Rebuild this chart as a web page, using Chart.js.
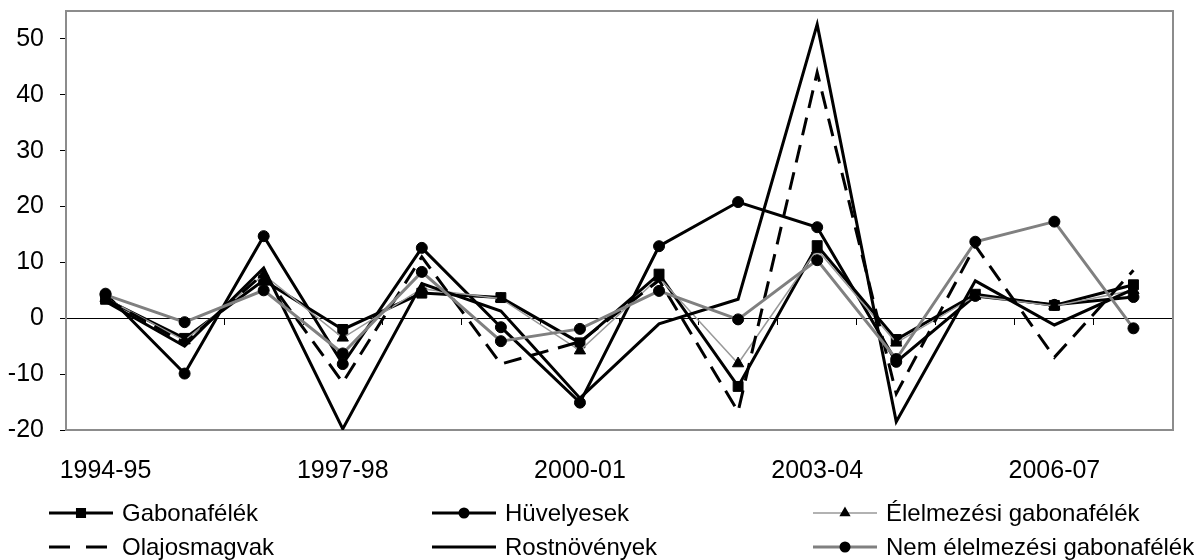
<!DOCTYPE html>
<html>
<head>
<meta charset="utf-8">
<script src="https://cdn.jsdelivr.net/npm/chart.js@4.4.1/dist/chart.umd.min.js"></script>
<style>
  html, body { margin: 0; padding: 0; background: #fff; }
  #wrap { width: 1194px; height: 560px; }
</style>
</head>
<body>
<div id="wrap"><canvas id="chart" width="1194" height="560"></canvas></div>
<script>
// ---------- data ----------
const years = [
  "1994-95", "1995-96", "1996-97", "1997-98", "1998-99", "1999-00", "2000-01",
  "2001-02", "2002-03", "2003-04", "2004-05", "2005-06", "2006-07", "2007-08",
];
const gabonafelek = [3.4, -3.6, 6.8, -2.0, 4.5, 3.7, -4.4, 7.9, -12.2, 13.0, -3.8, 4.3, 2.3, 6.0];
const huvelyesek = [4.4, -9.9, 14.7, -8.2, 12.6, -1.6, -15.1, 12.9, 20.8, 16.3, -7.8, 4.0, 2.4, 3.8];
const elelmezesi = [3.6, -4.0, 7.8, -3.5, 5.3, 3.5, -5.8, 7.3, -8.1, 12.3, -4.4, 4.0, 2.2, 5.0];
const olajosmagvak = [3.5, -4.5, 8.0, -11.5, 11.0, -8.2, -4.2, 6.8, -16.7, 44.0, -13.5, 13.0, -7.0, 8.6];
const rostnovenyek = [3.0, -5.0, 9.0, -19.8, 6.2, 1.3, -14.3, -1.0, 3.4, 52.6, -18.5, 6.7, -1.2, 5.2];
const nemElelmezesi = [4.2, -0.7, 5.0, -6.3, 8.3, -4.1, -1.9, 4.9, -0.2, 10.4, -7.3, 13.7, 17.3, -1.8];
const yTicks = [-20, -10, 0, 10, 20, 30, 40, 50];

const FONT = "'Liberation Sans', Arial, sans-serif";

// legend grid (3 columns x 2 rows, like the Excel original)
const legendCols = [49, 432, 813];
const legendRows = [513, 547];

const extras = {
  id: "extras",
  beforeDatasetsDraw(chart) {
    // grey plot-area frame
    const a = chart.chartArea;
    const ctx = chart.ctx;
    ctx.save();
    ctx.strokeStyle = "#8c8c8c";
    ctx.lineWidth = 2;
    ctx.strokeRect(a.left, a.top, a.right - a.left, a.bottom - a.top);
    ctx.restore();
  },
  afterDraw(chart) {
    const ctx = chart.ctx;
    chart.data.datasets.forEach((ds, i) => {
      const x = legendCols[i % 3];
      const y = legendRows[Math.floor(i / 3)];
      ctx.save();
      ctx.strokeStyle = ds.borderColor;
      ctx.lineWidth = ds.borderWidth;
      ctx.setLineDash(ds.borderDash ? [21, 16] : []);
      ctx.beginPath();
      ctx.moveTo(x, y);
      ctx.lineTo(x + 64, y);
      ctx.stroke();
      ctx.setLineDash([]);
      if (ds.pointRadius > 0) {
        ctx.fillStyle = "#000";
        ctx.strokeStyle = "#000";
        Chart.helpers.drawPoint(ctx, {
          pointStyle: ds.pointStyle,
          radius: ds.pointStyle === "circle" ? 4 : 5,
          borderWidth: 1,
          rotation: 0,
        }, x + 32, y);
      }
      ctx.fillStyle = "#000";
      ctx.font = "24px " + FONT;
      ctx.textBaseline = "middle";
      ctx.textAlign = "left";
      ctx.fillText(ds.label, x + 73, y + 1);
      ctx.restore();
    });
  },
};

function series(label, data, opts) {
  return Object.assign({
    label,
    data,
    borderColor: "#000",
    borderWidth: 3,
    pointRadius: 0,
    pointBackgroundColor: "#000",
    pointBorderColor: "#000",
    pointBorderWidth: 1,
    tension: 0,
    fill: false,
  }, opts);
}

const datasets = [
  series("Gabonafélék", gabonafelek, { pointStyle: "rect", pointRadius: 7 }),
  series("Hüvelyesek", huvelyesek, { pointStyle: "circle", pointRadius: 5.5 }),
  series("Élelmezési gabonafélék", elelmezesi, {
    borderColor: "#999", borderWidth: 1.5, pointStyle: "triangle", pointRadius: 6.5,
  }),
  series("Olajosmagvak", olajosmagvak, { borderDash: [18, 10] }),
  series("Rostnövények", rostnovenyek, {}),
  series("Nem élelmezési gabonafélék", nemElelmezesi, {
    borderColor: "#808080", pointStyle: "circle", pointRadius: 5.5,
  }),
];
// later series drawn on top, as in Excel
datasets.forEach((d, i) => { d.order = datasets.length - i; });

new Chart(document.getElementById("chart"), {
  type: "line",
  data: { labels: years, datasets },
  options: {
    responsive: false,
    animation: false,
    layout: { padding: { top: 11, right: 21, left: 0, bottom: 0 } },
    plugins: { legend: { display: false }, tooltip: { enabled: false } },
    scales: {
      x: {
        type: "category",
        offset: true,
        afterFit: (s) => { s.height = 130; s.paddingLeft = 0; s.paddingRight = 0; },
        border: { display: false },
        grid: { display: false },
        ticks: {
          autoSkip: false,
          maxRotation: 0,
          color: "#000",
          font: { family: FONT, size: 25 },
          padding: 18,
          callback: (v, i) => (i % 3 === 0 ? years[i] : ""),
        },
      },
      xZero: {
        type: "category",
        axis: "x",
        offset: true,
        position: { y: 0 },
        border: { display: true, color: "#000", width: 1 },
        grid: { drawOnChartArea: false, drawTicks: true, tickLength: 6, color: "#000", offset: true },
        ticks: { display: false },
      },
      y: {
        min: -20,
        max: 55,
        afterBuildTicks: (s) => { s.ticks = yTicks.map((v) => ({ value: v })); },
        afterFit: (s) => { s.width = 66; s.paddingTop = 0; s.paddingBottom = 0; },
        border: { display: false },
        grid: { drawOnChartArea: false, drawTicks: true, tickLength: 6, color: "#000" },
        ticks: { color: "#000", font: { family: FONT, size: 25 }, padding: 16 },
      },
    },
  },
  plugins: [extras],
});
</script>
</body>
</html>
